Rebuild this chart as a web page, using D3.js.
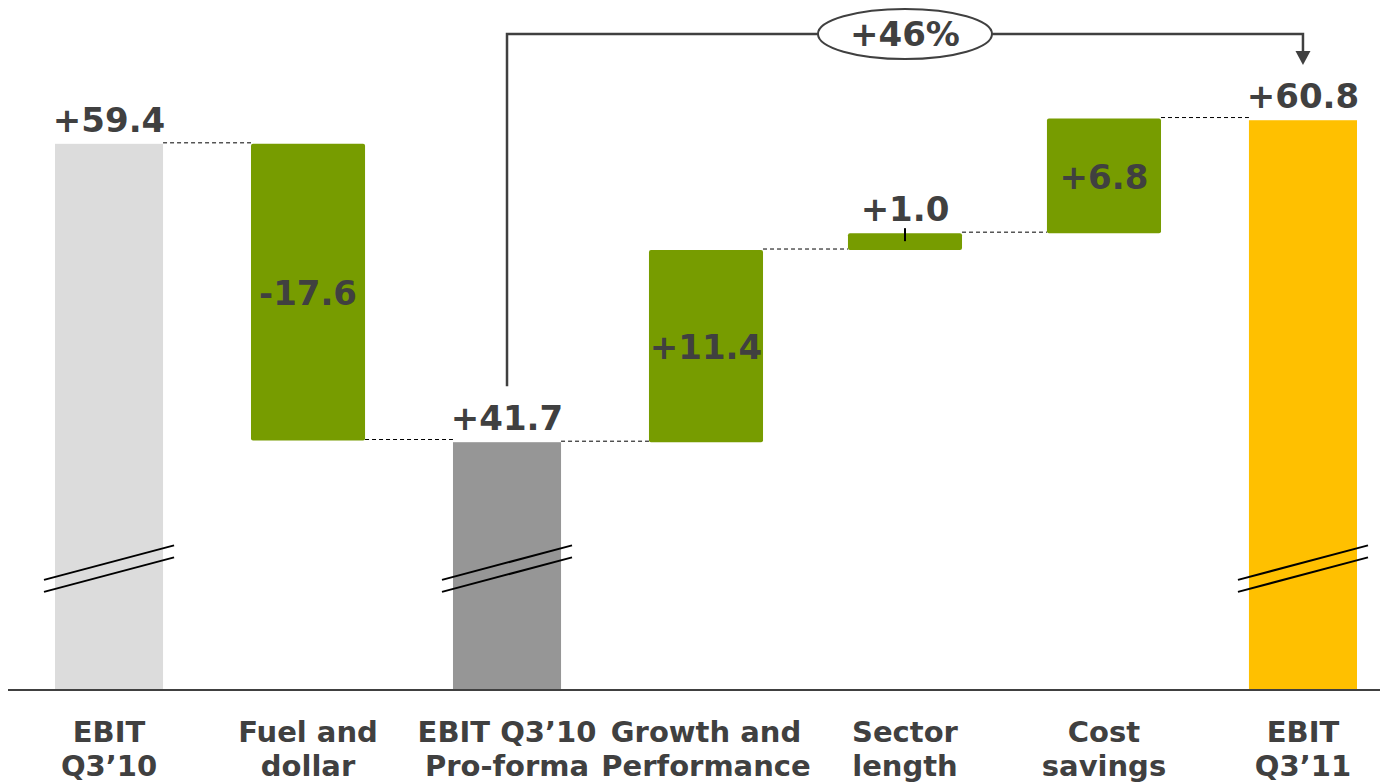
<!DOCTYPE html>
<html>
<head>
<meta charset="utf-8">
<script src="https://cdn.jsdelivr.net/npm/d3@7"></script>
<style>
  html, body { margin: 0; padding: 0; background: #ffffff; }
  svg { display: block; }
  text { font-family: "DejaVu Sans", Verdana, sans-serif; font-weight: bold; fill: #404040; }
</style>
</head>
<body>
<svg id="chart" width="1380" height="783"></svg>
<script>
// EBIT bridge Q3'10 -> Q3'11
const categories = [
  ["EBIT", "Q3\u201910"],
  ["Fuel and", "dollar"],
  ["EBIT Q3\u201910", "Pro-forma"],
  ["Growth and", "Performance"],
  ["Sector", "length"],
  ["Cost", "savings"],
  ["EBIT", "Q3\u201911"]
];
const values = [59.4, -17.6, 41.7, 11.4, 1.0, 6.8, 60.8];
const kinds = ["total", "delta", "total", "delta", "delta", "delta", "total"];
const valueLabels = ["+59.4", "-17.6", "+41.7", "+11.4", "+1.0", "+6.8", "+60.8"];
const growthLabel = "+46%";
const broken = [0, 2, 6];          // bars drawn with an axis break
const axisFloor = 27;              // value sitting on the baseline (broken axis)
const breakValue = 34.2;

const colors = { 0: "#dcdcdc", 2: "#969696", 6: "#ffc000" };
const deltaColor = "#779c00";

const svg = d3.select("#chart");

const x = d3.scaleBand()
  .domain(d3.range(categories.length))
  .range([55, 1357])
  .paddingInner(0.457)
  .paddingOuter(0);

const y = d3.scaleLinear()
  .domain([axisFloor, 62])
  .range([690, 100]);

// running totals for the waterfall
let running = 0;
const bars = values.map((v, i) => {
  let lo, hi, end;
  if (kinds[i] === "total") {
    lo = axisFloor; hi = v; end = v;
  } else {
    const start = running;
    end = running + v;
    lo = Math.min(start, end); hi = Math.max(start, end);
  }
  running = end;
  return { i, lo, hi, end, kind: kinds[i] };
});

// change bars are drawn a little wider than the totals
const grow = d => d.kind === "delta" ? 3 : 0;
const left = d => x(d.i) - grow(d);
const right = d => x(d.i) + x.bandwidth() + grow(d);

// bars
svg.append("g").selectAll("rect").data(bars).join("rect")
  .attr("x", left)
  .attr("width", d => right(d) - left(d))
  .attr("y", d => y(d.hi))
  .attr("height", d => y(d.lo) - y(d.hi))
  .attr("rx", d => d.kind === "delta" ? 2 : 0)
  .attr("fill", d => d.kind === "delta" ? deltaColor : colors[d.i]);

// dashed connectors between consecutive bars
const conn = bars.slice(0, -1).map(d => ({ from: d, to: bars[d.i + 1], level: d.end }));
svg.append("g").selectAll("line").data(conn).join("line")
  .attr("x1", d => right(d.from))
  .attr("x2", d => left(d.to))
  .attr("y1", d => y(d.level) - 1)
  .attr("y2", d => y(d.level) - 1)
  .attr("stroke", "#000")
  .attr("stroke-width", 1)
  .attr("stroke-dasharray", "4,3");

// axis break marks
const cx = i => x(i) + x.bandwidth() / 2;
const half = x.bandwidth() / 2 + 11;
const slope = 35 / 132;
const brk = svg.append("g");
broken.forEach(i => {
  [-6, 6].forEach(off => {
    const yc = y(breakValue) + off;
    brk.append("line")
      .attr("x1", cx(i) - half).attr("y1", yc + half * slope)
      .attr("x2", cx(i) + half).attr("y2", yc - half * slope)
      .attr("stroke", "#000").attr("stroke-width", 2);
  });
});

// baseline
svg.append("line")
  .attr("x1", 8).attr("x2", 1380)
  .attr("y1", 690).attr("y2", 690)
  .attr("stroke", "#404040").attr("stroke-width", 2);

// sector tick
svg.append("line")
  .attr("x1", cx(4)).attr("x2", cx(4))
  .attr("y1", y(bars[4].hi) - 5).attr("y2", y(bars[4].hi) + 8)
  .attr("stroke", "#000").attr("stroke-width", 2);

// value labels
svg.append("g").selectAll("text").data(bars).join("text")
  .attr("x", d => cx(d.i))
  .attr("y", d => {
    if (d.kind === "total" || d.i === 4) return y(d.hi) - 12;
    return (y(d.hi) + y(d.lo)) / 2 + 13;
  })
  .attr("text-anchor", "middle")
  .style("font-size", "34px")
  .text(d => valueLabels[d.i]);

// category labels
const cat = svg.append("g").selectAll("text").data(categories).join("text")
  .attr("text-anchor", "middle")
  .style("font-size", "29px");
cat.append("tspan").attr("x", (d, i) => cx(i)).attr("y", 742).text(d => d[0]);
cat.append("tspan").attr("x", (d, i) => cx(i)).attr("y", 776).text(d => d[1]);

// growth bracket
const topY = 34;
const xa = cx(2), xb = cx(6);
const lineColor = "#404040";
svg.append("path")
  .attr("d", `M${xa},${y(values[2]) - 56} V${topY} H${xb} V52`)
  .attr("fill", "none")
  .attr("stroke", lineColor)
  .attr("stroke-width", 2.5);
svg.append("path")
  .attr("d", `M${xb - 7.5},51 L${xb + 7.5},51 L${xb},65 Z`)
  .attr("fill", lineColor);
const ex = (xa + xb) / 2;
svg.append("ellipse")
  .attr("cx", ex).attr("cy", topY)
  .attr("rx", 87).attr("ry", 25)
  .attr("fill", "#fff")
  .attr("stroke", lineColor)
  .attr("stroke-width", 2);
svg.append("text")
  .attr("x", ex).attr("y", topY + 12)
  .attr("text-anchor", "middle")
  .style("font-size", "34px")
  .text(growthLabel);
</script>
</body>
</html>
